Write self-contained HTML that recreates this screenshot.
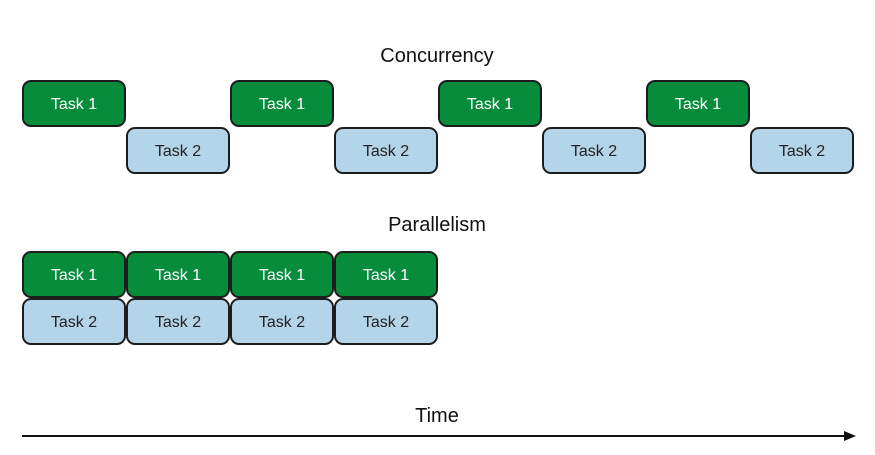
<!DOCTYPE html>
<html><head><style>html,body{margin:0;padding:0;background:#fff}</style></head><body>
<svg width="875" height="450" xmlns="http://www.w3.org/2000/svg" font-family="Liberation Sans, sans-serif">
<defs>
<g id="t1"><rect x="1" y="1" width="102" height="45" rx="8" fill="#078c3c" stroke="#1d1d1d" stroke-width="2"/><text x="52" y="29" text-anchor="middle" font-size="16" fill="#fff" transform="scale(1,1)">Task 1</text></g>
<g id="t2"><rect x="1" y="1" width="102" height="45" rx="8" fill="#b4d4ea" stroke="#1d1d1d" stroke-width="2"/><text x="52" y="29" text-anchor="middle" font-size="16" fill="#222">Task 2</text></g>
</defs>
<text x="437" y="62" text-anchor="middle" font-size="20" fill="#111">Concurrency</text>
<use href="#t1" x="22" y="80"/><use href="#t2" x="126" y="127"/>
<use href="#t1" x="230" y="80"/><use href="#t2" x="334" y="127"/>
<use href="#t1" x="438" y="80"/><use href="#t2" x="542" y="127"/>
<use href="#t1" x="646" y="80"/><use href="#t2" x="750" y="127"/>
<text x="437" y="231" text-anchor="middle" font-size="20" fill="#111">Parallelism</text>
<use href="#t1" x="22" y="251"/><use href="#t1" x="126" y="251"/><use href="#t1" x="230" y="251"/><use href="#t1" x="334" y="251"/>
<use href="#t2" x="22" y="298"/><use href="#t2" x="126" y="298"/><use href="#t2" x="230" y="298"/><use href="#t2" x="334" y="298"/>
<text x="437" y="422" text-anchor="middle" font-size="20" fill="#111">Time</text>
<line x1="22" y1="436" x2="846" y2="436" stroke="#111" stroke-width="2"/>
<polygon points="856,436 844,431 844,441" fill="#111"/>
</svg>
</body></html>
